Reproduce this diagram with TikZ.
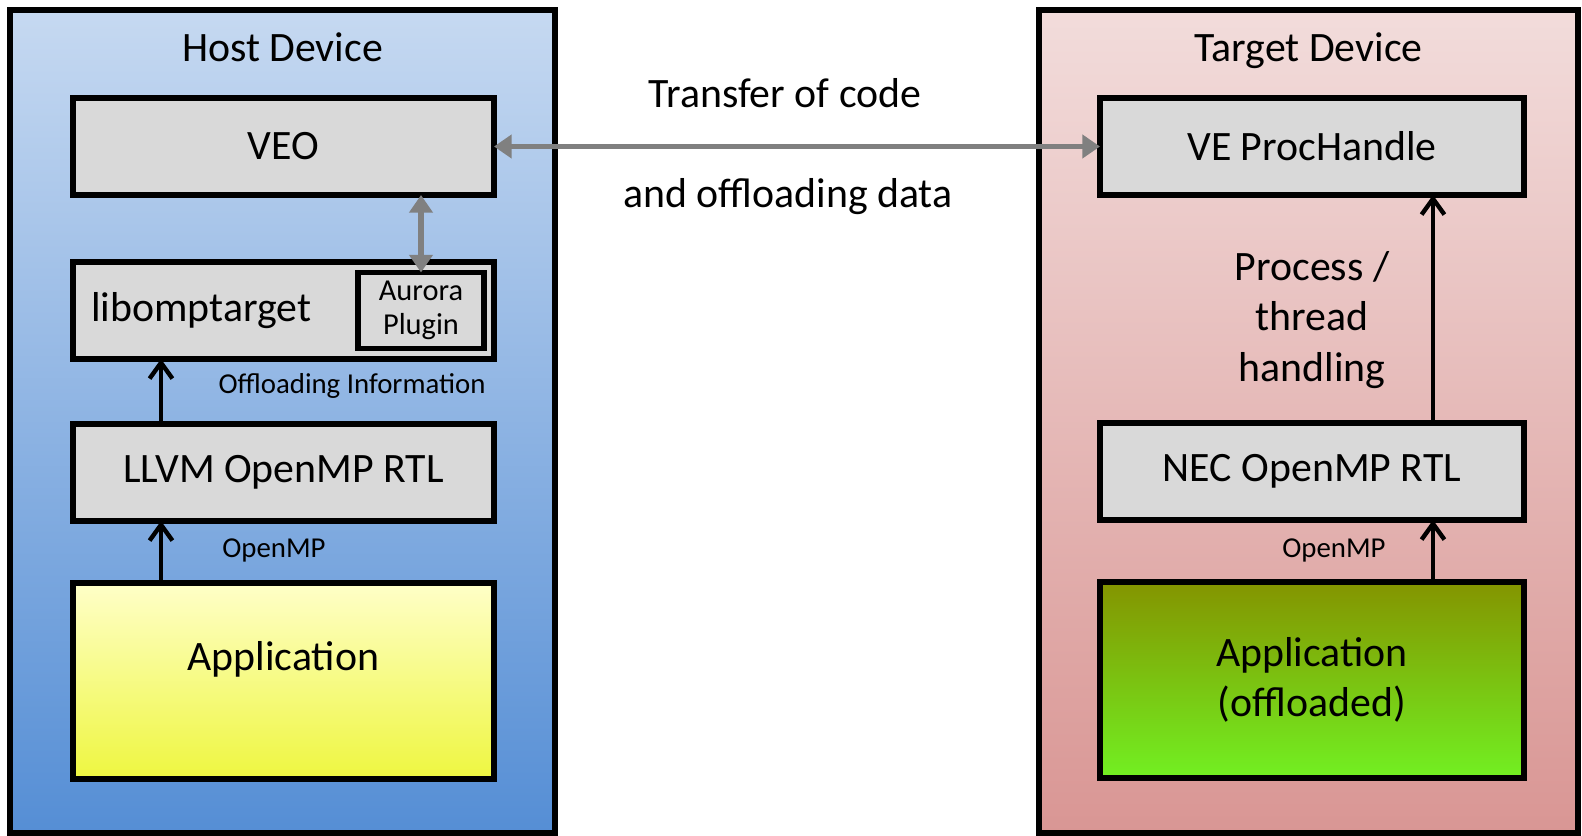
\documentclass[tikz,border=0pt]{standalone}
\usepackage{fontspec}
\setmainfont{Carlito}
\usetikzlibrary{positioning,arrows.meta}
\definecolor{hosttop}{HTML}{C6D9F1}
\definecolor{hostbot}{HTML}{558ED5}
\definecolor{targtop}{HTML}{F2DCDB}
\definecolor{targbot}{HTML}{D99694}
\definecolor{boxgray}{HTML}{D9D9D9}
\definecolor{apptop}{HTML}{FFFFC8}
\definecolor{appbot}{HTML}{EEF640}
\definecolor{offtop}{HTML}{849400}
\definecolor{offbot}{HTML}{72F022}
\newcommand{\bigtext}{\fontsize{23.8}{28.8}\selectfont}
\newcommand{\smalltext}{\fontsize{16.4}{19}\selectfont}
\newcommand{\plugtext}{\fontsize{17.3}{19.4}\selectfont}
\tikzset{
	panel/.style={draw=black, line width=3pt, outer sep=0pt, inner sep=0pt, minimum height=16.46cm},
	layer/.style={draw=black, line width=3pt, fill=boxgray, outer sep=0pt, minimum width=8.42cm, minimum height=1.94cm, font=\bigtext, align=center},
	plugin/.style={draw=black, line width=3pt, fill=boxgray, outer sep=0pt, minimum width=2.52cm, minimum height=1.52cm, font=\plugtext, align=center, inner sep=0pt},
	title/.style={font=\bigtext, inner sep=0pt},
	note/.style={font=\smalltext, inner sep=0pt},
	calls/.style={draw=black, line width=2.5pt, -{Straight Barb[length=9pt,width=13pt,line width=2.5pt]}},
	transfer/.style={draw=gray, line width=3pt, {Triangle[length=10pt,width=13pt]}-{Triangle[length=10pt,width=13pt]}},
}
\begin{document}
\begin{tikzpicture}
    \useasboundingbox (0,0) rectangle (31.64,-16.72);

    % host side
    \node[panel, minimum width=10.9cm, top color=hosttop, bottom color=hostbot] (host) at (5.65,-8.43) {};
    \node[title, below=0.44cm of host.north] (hosttitle) {Host Device};
    \node[layer, below=1.76cm of host.north, xshift=0.02cm] (veo) {VEO};
    \node[layer, below=1.34cm of veo] (lib) {};
    \node[font=\bigtext, inner sep=0pt, right=0.36cm of lib.west] (libtext) {libomptarget};
    \node[plugin, left=0.2cm of lib.east] (aurora) {Aurora\\Plugin};
    \node[layer, below=1.3cm of lib] (llvm) {LLVM OpenMP RTL};
    \node[layer, below=1.24cm of llvm, minimum height=3.92cm, top color=apptop, bottom color=appbot] (app) {Application\\\mbox{}};
    \node[note] (offinfo) at (7.04,-7.72) {Offloading Information};
    \node[note] (hostomp) at (5.48,-11.0) {OpenMP};

    % target side
    \node[panel, minimum width=10.78cm, top color=targtop, bottom color=targbot] (target) at (26.17,-8.43) {};
    \node[title, below=0.44cm of target.north] (targtitle) {Target Device};
    \node[layer, below=1.76cm of target.north, xshift=0.07cm, minimum width=8.48cm] (ve) {VE ProcHandle};
    \node[layer, minimum width=8.48cm] (nec) at (26.24,-9.43) {NEC OpenMP RTL};
    \node[layer, below=1.24cm of nec, minimum width=8.48cm, minimum height=3.92cm, top color=offtop, bottom color=offbot] (tapp) {Application\\(offloaded)};
    \node[font=\bigtext, align=center, inner sep=0pt] (thread) at (26.24,-6.4) {Process /\\thread\\handling};
    \node[note] (targomp) at (26.68,-11.0) {OpenMP};

    % transfer in the middle
    \node[font=\bigtext, inner sep=0pt] (xfer1) at (15.7,-1.86) {Transfer of code};
    \node[font=\bigtext, inner sep=0pt] (xfer2) at (15.76,-3.94) {and offloading data};

    \draw[transfer] (veo.east) -- (ve.west);
    \draw[transfer] (aurora.north) -- (aurora.north |- veo.south);

    \draw[calls] ([xshift=1.76cm]app.north west) -- ([xshift=1.76cm]llvm.south west);
    \draw[calls] ([xshift=1.76cm]llvm.north west) -- ([xshift=1.76cm]lib.south west);
    \draw[calls] ([xshift=-1.82cm]tapp.north east) -- ([xshift=-1.82cm]nec.south east);
    \draw[calls] ([xshift=-1.82cm]nec.north east) -- ([xshift=-1.82cm]ve.south east);
\end{tikzpicture}
\end{document}
